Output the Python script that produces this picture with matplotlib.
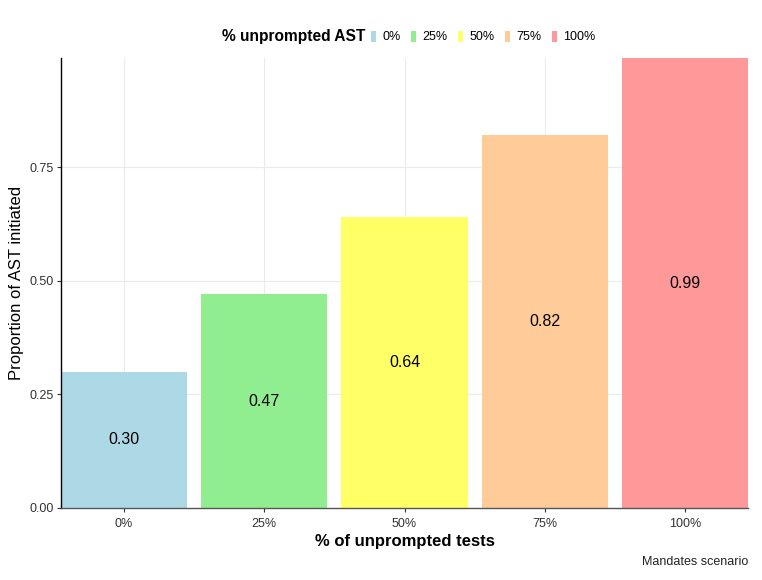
import matplotlib
matplotlib.use("Agg")
import matplotlib.pyplot as plt
from matplotlib.patches import Patch

plt.rcParams['font.family'] = ['Liberation Sans', 'DejaVu Sans']

categories = ["0%", "25%", "50%", "75%", "100%"]
values = [0.30, 0.47, 0.64, 0.82, 0.99]
colors = ["#ADD8E6", "#90EE90", "#FFFF66", "#FFCC99", "#FF9999"]
yticks = [0.00, 0.25, 0.50, 0.75]

fig = plt.figure(figsize=(7.62, 5.80), dpi=100)
ax = fig.add_axes([61/762, 1-508/580, (748-61)/762, (508-58)/580])

x = list(range(1, len(categories)+1))
ax.bar(x, values, width=0.9, color=colors, zorder=2)
for xi, v in zip(x, values):
    ax.text(xi, v/2, f"{v:.2f}", ha='center', va='center', fontsize=11.5, color='black', zorder=3)

ax.set_xlim(0.55, 5.45)
ax.set_ylim(0, 0.99)
ax.set_xticks(x)
ax.set_xticklabels(categories)
ax.set_yticks(yticks)
ax.set_yticklabels([f"{t:.2f}" for t in yticks])
ax.grid(True, color='#EBEBEB', linewidth=0.8, zorder=0)
ax.tick_params(axis='both', labelsize=9, colors='#333333', length=3, width=0.8, labelcolor='#333333')
ax.tick_params(axis='x', pad=4)
ax.tick_params(axis='y', pad=2)
for s in ['top', 'right']:
    ax.spines[s].set_visible(False)
ax.spines['left'].set_color('black')
ax.spines['left'].set_linewidth(1.0)
ax.spines['bottom'].set_color('#555555')
ax.spines['bottom'].set_linewidth(1.0)

ax.set_xlabel("% of unprompted tests", fontsize=12, fontweight='bold', labelpad=3)
ax.set_ylabel("Proportion of AST initiated", fontsize=12, labelpad=4)

handles = [Patch(facecolor=c, edgecolor='none') for c in colors]
leg = fig.legend(handles, categories, loc='center left', bbox_to_anchor=(371/762, 1-37/580),
                 ncol=5, frameon=False, fontsize=9, borderpad=0, borderaxespad=0,
                 handlelength=0.4, handleheight=1.0, handletextpad=0.5, columnspacing=0.85)
fig.text(222/762, 1-37/580, "% unprompted AST", ha='left', va='center', fontsize=11.2,
         fontweight='bold', color='black')

fig.text(748/762, 1-562/580, "Mandates scenario", ha='right', va='center', fontsize=9, color='#222222')

fig.savefig("out.png", dpi=100)
